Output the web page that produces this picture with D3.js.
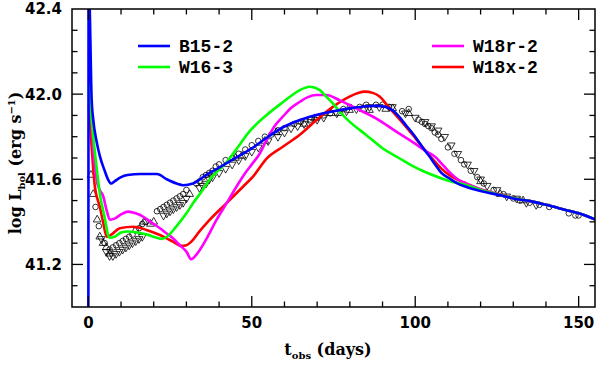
<!DOCTYPE html>
<html>
<head>
<meta charset="utf-8">
<script src="https://cdn.jsdelivr.net/npm/d3@7"></script>
<style>
  body { margin: 0; background: #fff; }
  svg { display: block; }
  .tick-label { font-family: "DejaVu Sans", sans-serif; font-weight: bold; font-size: 15px; fill: #000; }
  .title { font-family: "DejaVu Serif", serif; font-weight: bold; font-size: 16px; fill: #000; }
  .legend { font-family: "Liberation Mono", monospace; font-weight: bold; font-size: 18px; fill: #000; }
</style>
</head>
<body>
<div id="chart"></div>
<script>
// model light curves [t_obs (days), log L_bol]
var b15_2 = [[0, 40.8], [0.1, 42.6], [0.5, 42.35], [1, 41.98], [1.5, 41.88], [2.5, 41.78], [3.5, 41.71],
  [5, 41.64], [6, 41.6], [7, 41.58], [8, 41.59], [10, 41.61], [12, 41.62], [16, 41.625], [21, 41.625],
  [24, 41.6], [27, 41.58], [29, 41.572], [32, 41.58], [36, 41.62], [40, 41.655], [45, 41.7], [50, 41.745],
  [55, 41.8], [60, 41.848], [65, 41.88], [70, 41.903], [75, 41.92], [80, 41.933], [85, 41.943], [88, 41.945],
  [91, 41.94], [93, 41.925], [95, 41.895], [97, 41.857], [100, 41.8], [102, 41.755], [104, 41.715],
  [106.3, 41.665], [108, 41.63], [110.4, 41.605], [113, 41.58], [115.5, 41.565], [120, 41.545],
  [125.7, 41.526], [130, 41.51], [135.9, 41.495], [140, 41.48], [146, 41.456], [150, 41.44], [156, 41.405]];

var w16_3 = [[0.2, 42.05], [0.8, 41.92], [1.5, 41.8], [2.5, 41.66], [3.5, 41.534], [5, 41.42], [6, 41.34],
  [6.5, 41.325], [8, 41.33], [10, 41.35], [12, 41.355], [15, 41.35], [18, 41.34], [21, 41.325], [22.5, 41.32],
  [24, 41.33], [27, 41.38], [30, 41.44], [32, 41.487], [35, 41.55], [37, 41.597], [40, 41.645], [42, 41.675],
  [45, 41.735], [49.3, 41.825], [54.4, 41.9], [59.5, 41.962], [64.6, 42.018], [67.7, 42.035], [70.7, 42.02],
  [73, 41.985], [74.8, 41.957], [77, 41.915], [79.9, 41.871], [85, 41.808], [90, 41.746], [95, 41.7],
  [100, 41.656], [105.3, 41.62], [110.4, 41.592], [115.5, 41.573], [120, 41.55], [125, 41.53],
  [130, 41.512], [135.9, 41.495], [140, 41.48], [146, 41.456], [150, 41.44], [156, 41.405]];

var w18r_2 = [[0.2, 42.2], [0.8, 41.95], [1.5, 41.75], [2.5, 41.6], [3.5, 41.55], [4.6, 41.518], [5.5, 41.46],
  [6.6, 41.41], [8, 41.415], [10, 41.435], [12.2, 41.448], [14.5, 41.44], [16.8, 41.424], [19, 41.4],
  [21.9, 41.37], [24, 41.345], [25.9, 41.323], [28, 41.29], [30, 41.26], [31.5, 41.224], [33, 41.245],
  [34.1, 41.268], [36.5, 41.33], [39.2, 41.409], [42, 41.48], [45.3, 41.565], [48, 41.63], [50, 41.67],
  [52.4, 41.72], [54.4, 41.78], [57, 41.85], [59.5, 41.894], [62, 41.935], [64.6, 41.963], [67, 41.985],
  [69.7, 41.996], [72.8, 41.996], [76.8, 41.972], [81.9, 41.933], [88, 41.886], [94.1, 41.825],
  [100.2, 41.765], [103, 41.735], [106.3, 41.703], [108, 41.675], [110.4, 41.635], [113, 41.6],
  [115.5, 41.581], [120.6, 41.55], [125, 41.53], [130, 41.512], [135.9, 41.495], [140, 41.48],
  [146, 41.456], [150, 41.44], [156, 41.405]];

var w18x_2 = [[0.2, 41.95], [0.8, 41.8], [2, 41.565], [3.5, 41.471], [4.5, 41.4], [5.6, 41.33], [7, 41.34],
  [9.6, 41.37], [13.7, 41.377], [17.8, 41.362], [21.9, 41.338], [25.9, 41.307], [28.5, 41.287], [30, 41.29],
  [31.5, 41.307], [34, 41.355], [37.1, 41.409], [42.2, 41.487], [47.3, 41.565], [50.5, 41.615],
  [54.4, 41.695], [59.5, 41.753], [64.6, 41.808], [69.7, 41.877], [74.8, 41.94], [79.9, 41.988],
  [82.5, 42.005], [84.5, 42.012], [87, 42.006], [89, 41.99], [92.1, 41.935], [95, 41.885], [97, 41.85],
  [100.2, 41.79], [105.3, 41.695], [108, 41.65], [110.4, 41.62], [113, 41.597], [115.5, 41.581],
  [120, 41.553], [125, 41.532], [130, 41.512], [135.9, 41.495], [140, 41.48], [146, 41.456],
  [150, 41.44], [156, 41.405]];

// observed points
var obsCircles = [[2.2, 41.47], [3.2, 41.38], [5, 41.3], [6.5, 41.27], [7.5, 41.28], [8.5, 41.29],
  [9.5, 41.3], [10.5, 41.31], [11.5, 41.32], [12.5, 41.33], [13.5, 41.34], [14.5, 41.36], [15.5, 41.37],
  [16.5, 41.39], [17.5, 41.4], [21, 41.45], [22, 41.46], [23, 41.47], [24, 41.48], [25, 41.49], [26, 41.5],
  [27, 41.51], [28, 41.52], [29, 41.53], [30, 41.55], [33, 41.58], [34, 41.59], [35, 41.61], [36, 41.62],
  [37, 41.63], [38, 41.64], [39, 41.66], [40, 41.67], [42, 41.69], [44, 41.7], [46, 41.72], [48, 41.74],
  [50, 41.76], [52, 41.78], [54, 41.8], [56, 41.81], [58, 41.83], [60, 41.84], [63, 41.86], [65, 41.87],
  [68, 41.88], [70, 41.89], [72, 41.9], [74, 41.91], [78, 41.93], [80, 41.94], [83, 41.94], [85, 41.95],
  [88, 41.95], [90, 41.95], [92, 41.94], [96, 41.92], [98, 41.93], [101, 41.88], [102, 41.87],
  [103, 41.86], [104, 41.85], [105, 41.84], [106, 41.82], [107, 41.81], [108, 41.79], [110, 41.75],
  [112, 41.72], [114, 41.69], [115, 41.67], [117, 41.64], [119, 41.61], [121, 41.58], [124, 41.55],
  [127, 41.53], [130, 41.51], [132, 41.5], [135, 41.49], [138, 41.48], [141, 41.47], [147, 41.44],
  [149, 41.43], [150, 41.43]];

var obsTriDown = [[4, 41.32], [5.5, 41.26], [6.5, 41.24], [7.5, 41.24], [8.5, 41.25], [9.5, 41.26],
  [10.5, 41.27], [11.5, 41.28], [12.5, 41.29], [13.5, 41.3], [14.5, 41.31], [15.5, 41.32], [16.5, 41.33],
  [23, 41.43], [24, 41.44], [25, 41.45], [26, 41.46], [27, 41.47], [28, 41.48], [29, 41.49], [30, 41.51],
  [34, 41.56], [35, 41.57], [36, 41.58], [37, 41.6], [38, 41.61], [40, 41.63], [42, 41.65], [44, 41.67],
  [46, 41.69], [48, 41.71], [50, 41.73], [52, 41.75], [55, 41.78], [58, 41.8], [60, 41.82], [62, 41.84],
  [64, 41.85], [66, 41.86], [68, 41.87], [70, 41.88], [72, 41.89], [76, 41.91], [79, 41.92], [82, 41.93],
  [86, 41.94], [89, 41.94], [93, 41.94], [97, 41.91], [100, 41.89], [103, 41.87], [105, 41.85],
  [107, 41.83], [109, 41.8], [111, 41.76], [113, 41.72], [116, 41.67], [118, 41.64], [120, 41.6],
  [122, 41.57], [125, 41.55], [128, 41.52], [131, 41.51], [134, 41.49], [137, 41.48]];

var obsTriUp = [[0.8, 41.62], [1.5, 41.53], [2.7, 41.41], [3.5, 41.33], [4.5, 41.3], [5.5, 41.28],
  [6.5, 41.25], [17, 41.4], [19, 41.39], [20, 41.4], [31, 41.53], [45, 41.7], [47, 41.71], [54, 41.78],
  [57.5, 41.82], [66, 41.86], [69.2, 41.886], [74.3, 41.91], [77, 41.91], [79.9, 41.925], [84, 41.93],
  [86, 41.925], [91, 41.93], [93.1, 41.933], [98, 41.91], [120, 41.59], [126, 41.53], [133, 41.5]];

var models = [
  { name: "B15-2", color: "#0000ff", data: b15_2 },
  { name: "W16-3", color: "#00ff00", data: w16_3 },
  { name: "W18r-2", color: "#ff00ff", data: w18r_2 },
  { name: "W18x-2", color: "#ff0000", data: w18x_2 }
];
var drawOrder = ["W18x-2", "W18r-2", "W16-3", "B15-2"];

var xMajor = [0, 50, 100, 150];
var yMajor = [41.2, 41.6, 42.0, 42.4];

var W = 598, H = 369;
var pL = 72, pR = 595, pT = 9, pB = 307;

var svg = d3.select("#chart").append("svg")
    .attr("width", W)
    .attr("height", H);

var x = d3.scaleLinear().domain([-5, 155]).range([pL, pR]);
var y = d3.scaleLinear().domain([41.0, 42.4]).range([pB, pT]);

svg.append("clipPath").attr("id", "clip")
  .append("rect")
    .attr("x", pL).attr("y", pT)
    .attr("width", pR - pL).attr("height", pB - pT);

var plot = svg.append("g").attr("clip-path", "url(#clip)");

// observations first, lines go over them
var mk = plot.append("g")
    .attr("fill", "none")
    .attr("stroke", "#000")
    .attr("stroke-width", 0.8);

mk.selectAll("circle").data(obsCircles).enter().append("circle")
    .attr("cx", function(d) { return x(d[0]); })
    .attr("cy", function(d) { return y(d[1]); })
    .attr("r", 2.8);

var tri = d3.symbol().type(d3.symbolTriangle).size(26);
mk.selectAll("path.up").data(obsTriUp).enter().append("path")
    .attr("class", "up")
    .attr("d", tri)
    .attr("transform", function(d) { return "translate(" + x(d[0]) + "," + y(d[1]) + ")"; });
mk.selectAll("path.down").data(obsTriDown).enter().append("path")
    .attr("class", "down")
    .attr("d", tri)
    .attr("transform", function(d) { return "translate(" + x(d[0]) + "," + y(d[1]) + ") rotate(180)"; });

var line = d3.line()
    .x(function(d) { return x(d[0]); })
    .y(function(d) { return y(d[1]); })
    .curve(d3.curveMonotoneX);

drawOrder.forEach(function(n) {
  var m = models.find(function(d) { return d.name === n; });
  plot.append("path")
      .datum(m.data)
      .attr("fill", "none")
      .attr("stroke", m.color)
      .attr("stroke-width", 2.6)
      .attr("stroke-linejoin", "round")
      .attr("d", line);
});

// frame
svg.append("rect")
    .attr("x", pL).attr("y", pT)
    .attr("width", pR - pL).attr("height", pB - pT)
    .attr("fill", "none")
    .attr("stroke", "#000")
    .attr("stroke-width", 1.5);

// ticks on all four sides, pointing in
var tk = svg.append("g").attr("stroke", "#000").attr("stroke-width", 1.3);
d3.range(0, 151, 10).forEach(function(t) {
  var len = t % 50 === 0 ? 11 : 5.5;
  tk.append("line").attr("x1", x(t)).attr("x2", x(t)).attr("y1", pB).attr("y2", pB - len);
  tk.append("line").attr("x1", x(t)).attr("x2", x(t)).attr("y1", pT).attr("y2", pT + len);
});
d3.range(41.1, 42.35, 0.1).forEach(function(v) {
  var major = yMajor.some(function(m) { return Math.abs(m - v) < 1e-6; });
  var len = major ? 11 : 5.5;
  tk.append("line").attr("y1", y(v)).attr("y2", y(v)).attr("x1", pL).attr("x2", pL + len);
  tk.append("line").attr("y1", y(v)).attr("y2", y(v)).attr("x1", pR).attr("x2", pR - len);
});

// tick labels
svg.selectAll("text.xl").data(xMajor).enter().append("text")
    .attr("class", "tick-label xl")
    .attr("x", function(d) { return x(d); })
    .attr("y", 328)
    .attr("text-anchor", "middle")
    .text(function(d) { return d; });

svg.selectAll("text.yl").data(yMajor).enter().append("text")
    .attr("class", "tick-label yl")
    .attr("x", 62)
    .attr("y", function(d) { return y(d); })
    .attr("dy", "0.36em")
    .attr("text-anchor", "end")
    .text(function(d) { return d.toFixed(1); });

// axis titles
var xt = svg.append("text").attr("class", "title")
    .attr("x", 328).attr("y", 355).attr("text-anchor", "middle");
xt.append("tspan").text("t");
xt.append("tspan").attr("font-size", "10px").attr("dy", 4).text("obs");
xt.append("tspan").attr("dy", -4).text(" (days)");

var yt = svg.append("text").attr("class", "title")
    .attr("transform", "translate(21," + 163 + ") rotate(-90)")
    .attr("text-anchor", "middle");
yt.append("tspan").text("log L");
yt.append("tspan").attr("font-size", "10px").attr("dy", 4).text("bol");
yt.append("tspan").attr("dy", -4).text(" (erg s");
yt.append("tspan").attr("font-size", "10px").attr("dy", -6).text("\u22121");
yt.append("tspan").attr("dy", 6).text(")");

// legend
var legendPos = [
  { name: "B15-2", x: 138, y: 46 },
  { name: "W16-3", x: 138, y: 67 },
  { name: "W18r-2", x: 432, y: 46 },
  { name: "W18x-2", x: 432, y: 67 }
];
legendPos.forEach(function(p) {
  var m = models.find(function(d) { return d.name === p.name; });
  svg.append("line")
      .attr("x1", p.x).attr("x2", p.x + 32)
      .attr("y1", p.y).attr("y2", p.y)
      .attr("stroke", m.color).attr("stroke-width", 2.6);
  svg.append("text").attr("class", "legend")
      .attr("x", p.x + 41).attr("y", p.y + 6)
      .text(p.name);
});
</script>
</body>
</html>
